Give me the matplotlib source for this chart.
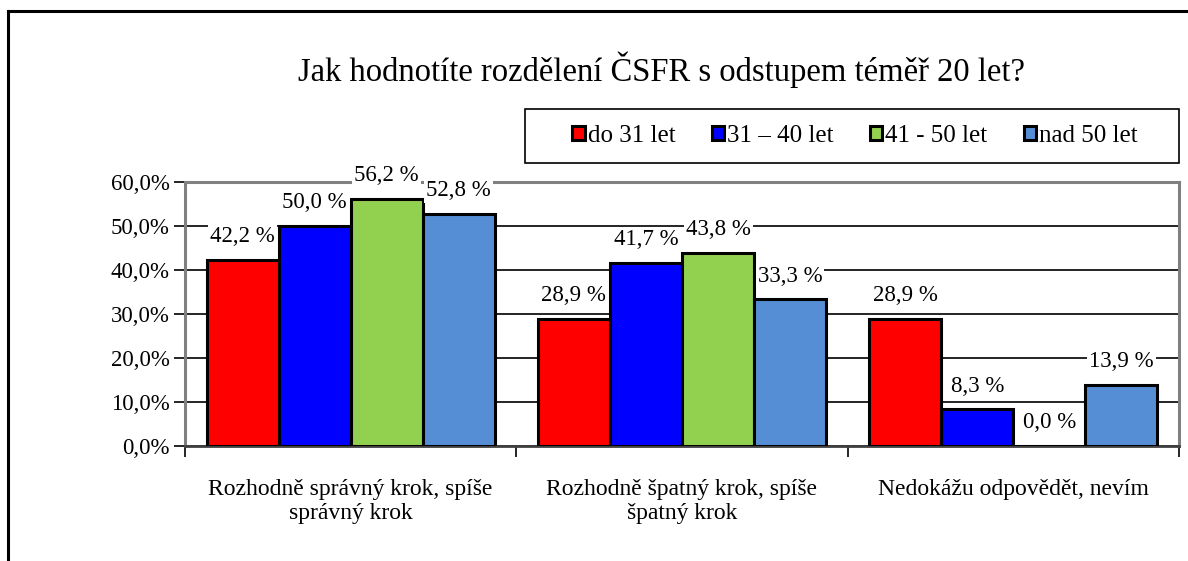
import matplotlib
matplotlib.use("Agg")
import matplotlib.pyplot as plt
import numpy as np
from matplotlib.lines import Line2D
from matplotlib.patches import Rectangle

title = "Jak hodnotíte rozdělení ČSFR s odstupem téměř 20 let?"
categories = ["Rozhodně správný krok, spíše\nsprávný krok",
              "Rozhodně špatný krok, spíše\nšpatný krok",
              "Nedokážu odpovědět, nevím"]
series_names = ["do 31 let", "31 – 40 let", "41 - 50 let", "nad 50 let"]
series_values = [
    [42.2, 28.9, 28.9],
    [50.0, 41.7, 8.3],
    [56.2, 43.8, 0.0],
    [52.8, 33.3, 13.9],
]
colors = ["#FF0000", "#0000FF", "#92D050", "#558ED5"]
yticks = [0, 10, 20, 30, 40, 50, 60]

plt.rcParams['font.family'] = ['Liberation Serif', 'DejaVu Serif']

W, H = 1188, 561
fig = plt.figure(figsize=(W / 100, H / 100), dpi=100)
ax = fig.add_axes([185 / W, 1 - 446 / H, (1179 - 185) / W, (446 - 182) / H])

n = len(series_names)
bw = 72 / 331.0
x = np.arange(len(categories))
for i, (name, vals, c) in enumerate(zip(series_names, series_values, colors)):
    pos = x + (i - (n - 1) / 2) * bw
    ax.bar(pos, vals, width=bw, color=c, edgecolor="black", linewidth=2.2,
           zorder=3, label=name)
    for p, v in zip(pos, vals):
        ax.text(p, v + 5.3, f"{v:.1f} %".replace(".", ","), ha="center",
                va="center", fontsize=16.5, zorder=4,
                bbox=dict(facecolor="white", edgecolor="none", pad=1.5))

ax.set_xlim(-0.5, len(categories) - 0.5)
ax.set_ylim(0, 60)
ax.set_yticks(yticks)
ax.set_yticklabels([f"{t:.1f}%".replace(".", ",") for t in yticks], fontsize=16.5)
ax.set_xticks(np.arange(len(categories) + 1) - 0.5)
ax.set_xticklabels([])
ax.tick_params(axis="y", direction="out", length=8, width=1.2, color="black", pad=3)
ax.tick_params(axis="x", direction="out", length=8, width=1.2, color="black")
for i, cat in enumerate(categories):
    ax.text(i, -7.4, cat, ha="center", va="top", fontsize=17, linespacing=1.2)

ax.yaxis.grid(True, color="black", linewidth=1.2, zorder=0)
ax.set_axisbelow(True)
for s in ["left", "right", "top"]:
    ax.spines[s].set_color("#808080")
    ax.spines[s].set_linewidth(2.2)
ax.spines["bottom"].set_color("#404040")
ax.spines["bottom"].set_linewidth(2)

fig.text(0.5 * (298 + 1025) / W, 1 - 70 / H, title, ha="center", va="center",
         fontsize=23.5)

# legend box
fig.add_artist(Rectangle((525 / W, 1 - 163 / H), (1179 - 525) / W, 54 / H,
                         transform=fig.transFigure, facecolor="white",
                         edgecolor="black", linewidth=1.2, zorder=1))
handles, labels = ax.get_legend_handles_labels()
leg = fig.legend(handles, labels, loc="center",
                 bbox_to_anchor=(855 / W, 1 - 136 / H),
                 ncol=4, fontsize=18, frameon=False,
                 handlelength=0.5, handleheight=0.5, handletextpad=0.12,
                 columnspacing=1.45, borderpad=0.7, borderaxespad=0)
leg.set_zorder(2)

# figure border (left and top)
fig.add_artist(Line2D([8 / W, 8 / W], [0, 1 - 11 / H], color="black",
                      linewidth=2.2, transform=fig.transFigure))
fig.add_artist(Line2D([8 / W, 1], [1 - 11 / H, 1 - 11 / H], color="black",
                      linewidth=2.2, transform=fig.transFigure))

fig.savefig("out.png", dpi=100)
